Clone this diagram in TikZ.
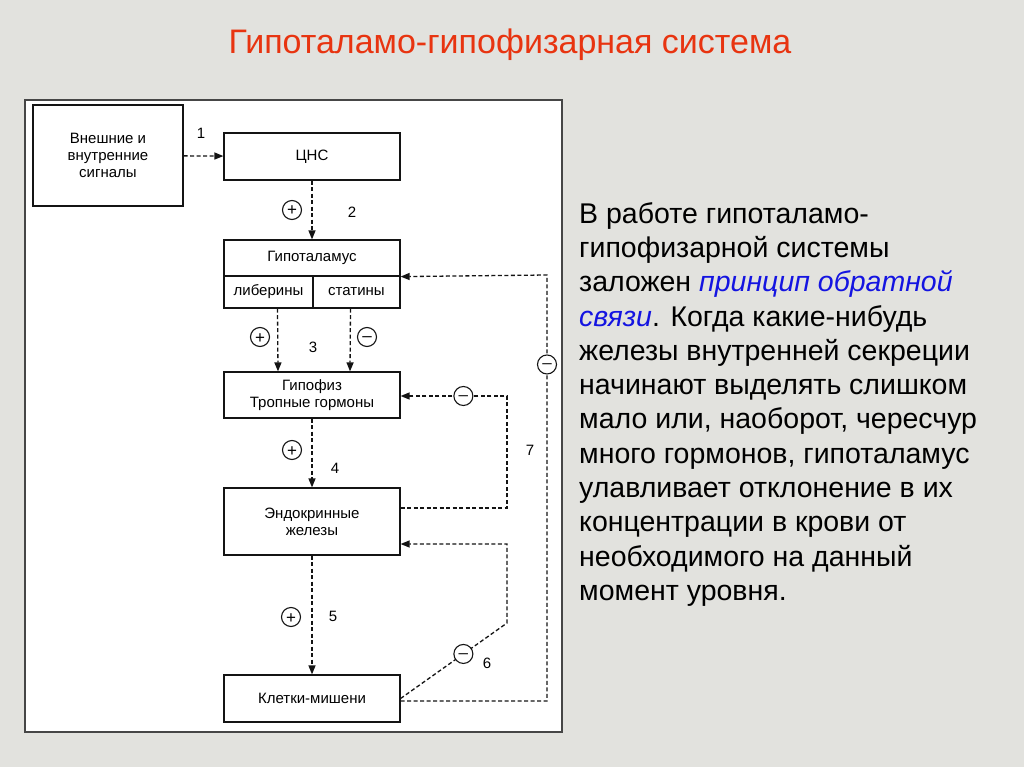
\documentclass[tikz,border=0pt]{standalone}
\usepackage{fontspec}
\setmainfont{Liberation Sans}
\definecolor{paper}{RGB}{226,226,222}
\definecolor{frame}{RGB}{70,70,70}
\definecolor{ink}{RGB}{20,20,20}
\definecolor{titlered}{RGB}{232,52,16}
\definecolor{linkblue}{RGB}{20,20,225}
\usetikzlibrary{arrows.meta,positioning,calc}
\newcommand{\signplus}{\raisebox{-6pt}[0pt][0pt]{+}}
\newcommand{\signminus}{\raisebox{-4.4pt}[0pt][0pt]{–}}
\tikzset{
  block/.style={draw=ink, line width=1.2pt, fill=white, inner sep=2pt,
              font=\fontsize{15}{17}\selectfont, align=center},
  sign/.style={circle, draw=ink, solid, line width=1.1pt, fill=white, inner sep=0pt,
              minimum size=19pt, font=\fontsize{17}{17}\selectfont},
  flow/.style={-{Triangle[length=9pt,width=7pt]}, dash pattern=on 4pt off 2.5pt,
              line width=1.3pt, ink},
  fb/.style={flow},
  tag/.style={font=\fontsize{15}{17}\selectfont},
}

\begin{document}
\begin{tikzpicture}[x=1pt,y=-1pt]
        \fill[paper] (0,0) rectangle (1024,767);
        \draw[frame,fill=white,line width=1.5pt] (25,100) rectangle (562,732);
        \node[font=\fontsize{34}{38}\selectfont,text=titlered] (title) at (510,45) {Гипоталамо-гипофизарная система};
        \node[block,minimum width=150pt,minimum height=101pt] (sig) at (108,155.5) {Внешние и\\внутренние\\сигналы};
        \node[block,minimum width=176pt,minimum height=47pt] (cns) at (312,156.5) {ЦНС};
        \node[block,minimum width=176pt,minimum height=36pt] (hyp) at (312,258) {Гипоталамус};
        \node[block,minimum width=89pt,minimum height=32pt] (lib) at (268.5,292) {либерины};
        \node[block,minimum width=87pt,minimum height=32pt] (stat) at (356.5,292) {статины};
        \node[block,minimum width=176pt,minimum height=46pt] (hypo) at (312,395) {Гипофиз\\Тропные гормоны};
        \node[block,minimum width=176pt,minimum height=67pt] (endo) at (312,521.5) {Эндокринные\\железы};
        \node[block,minimum width=176pt,minimum height=47pt] (klet) at (312,698.5) {Клетки-мишени};
        \draw[flow] (sig) -- (cns);
        \draw[flow] (cns) -- (hyp);
        \draw[flow] ([xshift=9pt]lib.south) -- ([xshift=-34pt]hypo.north);
        \draw[flow] ([xshift=-6pt]stat.south) -- ([xshift=38pt]hypo.north);
        \draw[flow] (hypo) -- (endo);
        \draw[flow] (endo) -- (klet);
        \coordinate (c4a) at (507,508);
        \coordinate (c4b) at (507,396);
        \coordinate (c6a) at (507,623);
        \coordinate (c6b) at (507,544);
        \coordinate (c7a) at (547,701);
        \coordinate (c7b) at (547,275);
        \draw[fb] (endo.east |- c4a) -- (c4a) -- (c4b) -- node[sign,pos=0.41] (m4) {\signminus} (hypo.east |- c4b);
        \draw[fb] (klet.east) -- node[sign,pos=0.59] (m6) {\signminus} (c6a) -- (c6b) -- (endo.east |- c6b);
        \draw[fb] (klet.east |- c7a) -- (c7a) -- node[sign,pos=0.79] (m7) {\signminus} (c7b) -- (hyp.south east);
        \node[sign] (p2) at (292,210) {\signplus};
        \node[sign] (p3) at (260,337) {\signplus};
        \node[sign] (m3) at (367,337) {\signminus};
        \node[sign] (p4) at (292,450) {\signplus};
        \node[sign] (p5) at (291,617) {\signplus};
        \node[tag] (n1) at (201,133) {1};
        \node[tag] (n2) at (352,212) {2};
        \node[tag] (n3) at (313,347) {3};
        \node[tag] (n4) at (335,468) {4};
        \node[tag] (n5) at (333,616) {5};
        \node[tag] (n6) at (487,663) {6};
        \node[tag] (n7) at (530,450) {7};
        \node[anchor=north west,inner sep=0pt,align=left,font=\fontsize{28.5}{34.3}\selectfont] (note) at (579,202)
          {В работе гипоталамо-\\гипофизарной системы\\заложен \textcolor{linkblue}{\itshape принцип обратной}\\
           \textcolor{linkblue}{\itshape связи}. Когда какие-нибудь\\железы внутренней секреции\\начинают выделять слишком\\
           мало или, наоборот, чересчур\\много гормонов, гипоталамус\\улавливает отклонение в их\\концентрации в крови от\\
           необходимого на данный\\момент уровня.};
      \end{tikzpicture}
\end{document}
